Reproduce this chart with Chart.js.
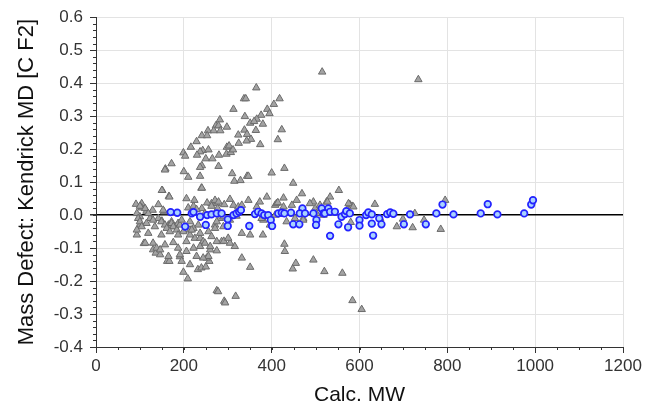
<!DOCTYPE html>
<html>
<head>
<meta charset="utf-8">
<script src="https://cdn.jsdelivr.net/npm/chart.js@4.4.1/dist/chart.umd.min.js"></script>
<style>
  html, body { margin: 0; padding: 0; background: #fff; }
  #wrap { width: 646px; height: 411px; }
</style>
</head>
<body>
<div id="wrap"><canvas id="md-chart" width="646" height="411"></canvas></div>
<script>
// Kendrick mass defect (CF2) vs calculated MW
// gray triangles: all features, blue circles: matched series
const triMW = [
  515, 734, 365, 337, 341, 418, 405, 313, 390, 395, 376, 339, 282, 366, 351, 380, 360, 273, 279, 298,
  255, 268, 283, 423, 338, 364, 241, 253, 324, 344, 353, 343, 414, 229, 325, 374, 216, 298, 303, 199,
  203, 243, 237, 256, 230, 250, 265, 280, 297, 307, 312, 279, 241, 172, 158, 200, 210, 237, 310, 315,
  329, 344, 347, 400, 429, 449, 240, 151, 166, 469, 553, 533,
  795, 726, 635, 578, 583, 685, 721, 747, 785, 699, 580, 647, 525, 495, 499,
  93, 109, 130, 136, 146, 162, 167, 191, 199, 209, 214, 232, 240, 250, 258, 252, 260, 275, 275, 278,
  292, 294, 318, 351, 332, 316, 286, 291, 305, 380, 429, 430, 448, 455, 495, 520, 561, 584, 605,
  91, 104, 104, 115, 129, 142, 155, 150, 167, 224, 210, 241, 241, 248, 263, 275, 277, 292, 305, 313,
  324, 332, 347, 366, 373, 389, 408, 411, 427, 427, 446, 457, 487, 502, 510, 527, 575, 586,
  100, 100, 123, 142, 150, 165, 172, 180, 187, 199, 214, 222, 225, 237, 244, 256, 260, 271, 282, 290,
  305, 332, 381, 396, 434, 472, 518,
  157, 237, 100, 112, 153, 206, 222, 253, 263, 229, 271, 93, 96, 100, 119, 130, 115, 104, 134, 149,
  157, 161, 172, 176, 184, 168, 187, 191, 195, 214, 214, 218, 233, 237, 263, 271, 112, 130, 138, 146,
  157, 176, 187, 191, 206, 206, 222, 237, 229, 248, 256, 93, 119, 149, 165, 195, 244,
  279, 414, 275, 290, 320, 377, 408, 453, 472, 275, 301, 351
];
const triMD = [
  0.434, 0.411, 0.386, 0.353, 0.353, 0.353, 0.336, 0.321, 0.321, 0.308, 0.303, 0.299, 0.289, 0.291, 0.279, 0.276, 0.284, 0.271, 0.271, 0.267,
  0.256, 0.256, 0.256, 0.259, 0.258, 0.257, 0.241, 0.241, 0.243, 0.245, 0.230, 0.225, 0.229, 0.223, 0.218, 0.214, 0.206, 0.206, 0.210, 0.189,
  0.179, 0.196, 0.192, 0.198, 0.182, 0.171, 0.171, 0.182, 0.185, 0.190, 0.198, 0.148, 0.150, 0.156, 0.140, 0.132, 0.115, 0.118, 0.126, 0.103,
  0.105, 0.118, 0.118, 0.128, 0.142, 0.097, 0.082, 0.075, 0.057, 0.065, 0.075, 0.055,
  0.045, 0.005, 0.033, 0.032, 0.027, -0.035, -0.038, -0.015, -0.043, -0.012, -0.022, -0.010, 0.040, 0.040, 0.020,
  -0.060, -0.086, -0.105, -0.115, -0.120, -0.140, -0.140, -0.126, -0.173, -0.193, -0.150, -0.165, -0.160, -0.157, -0.140, -0.130, -0.105, -0.108, -0.229, -0.232,
  -0.261, -0.266, -0.246, -0.158, -0.130, -0.095, -0.080, -0.079, -0.085, -0.060, -0.088, -0.110, -0.163, -0.146, -0.136, -0.171, -0.176, -0.259, -0.286,
  0.033, 0.035, 0.022, 0.012, 0.015, 0.032, 0.010, 0.075, 0.055, 0.045, 0.022, 0.082, 0.020, 0.005, 0.035, 0.035, 0.020, 0.032, 0.048, 0.030,
  0.025, 0.030, 0.045, 0.025, 0.040, 0.055, 0.030, 0.035, 0.052, 0.025, 0.030, 0.045, 0.035, 0.005, 0.030, 0.040, 0.035, 0.025,
  -0.005, -0.030, -0.010, -0.010, -0.018, -0.030, -0.020, -0.035, -0.025, -0.050, -0.045, -0.040, -0.070, -0.070, -0.080, -0.050, -0.095, -0.030, -0.010, -0.035,
  -0.015, -0.055, -0.015, -0.030, -0.020, -0.010, 0.000,
  0.137, 0.145, 0.027, 0.020, 0.015, 0.050, 0.027, 0.037, 0.027, 0.017, 0.045, 0.005, -0.010, -0.020, 0.005, -0.015, -0.025, -0.035, -0.035, -0.020,
  -0.030, -0.040, -0.025, -0.035, -0.045, -0.050, -0.060, -0.030, -0.015, -0.020, -0.060, -0.045, -0.030, -0.055, -0.065, -0.040, -0.085, -0.085, -0.100, -0.105,
  -0.090, -0.083, -0.100, -0.120, -0.080, -0.110, -0.100, -0.095, -0.125, -0.085, -0.125, -0.045, -0.055, -0.060, -0.125, -0.140, -0.130,
  0.040, 0.038, -0.020, -0.005, -0.003, -0.010, 0.000, -0.010, -0.015, -0.080, -0.070, -0.060
];

const circMW = [
  170, 185, 203, 218, 222, 237, 250, 253, 263, 275,
  286, 300, 300, 313, 320, 326, 330, 349, 362, 369, 377, 383, 392, 398, 401, 415, 423, 429, 444, 449,
  463, 470, 464, 476, 495,
  502, 501, 514, 518, 529, 521, 533, 533,
  544, 552, 559, 567, 570, 574, 578, 600, 600, 615, 620, 628, 628, 631, 645, 650, 663, 670, 677, 701,
  715, 751, 775, 789, 814, 876, 892, 914, 975, 991, 995
];
const circMD = [
  0.009, 0.007, -0.035, 0.005, 0.009, -0.005, -0.030, 0.000, 0.002, 0.005,
  0.005, -0.013, -0.033, 0.000, 0.005, 0.010, 0.015, -0.033, 0.003, 0.010, 0.005, 0.000, 0.000, -0.015, -0.033, 0.005, 0.007, 0.005, 0.007, -0.028,
  -0.028, 0.020, 0.005, 0.005, 0.005,
  -0.015, -0.030, 0.020, 0.005, 0.020, 0.005, 0.010, -0.063,
  0.010, -0.028, -0.005, 0.003, 0.012, -0.037, 0.005, -0.015, -0.032, 0.000, 0.008, 0.002, -0.026, -0.062, -0.010, -0.028, 0.003, 0.008, 0.004, -0.028,
  0.002, -0.028, 0.005, 0.032, 0.002, 0.005, 0.033, 0.002, 0.005, 0.032, 0.045
];

const xMin = 0, xMax = 1200, xStep = 200, xMinorStep = 50;
const yMin = -0.4, yMax = 0.6, yStep = 0.1, yMinorStep = 0.02;

const toPoints = (xs, ys) => xs.map((v, i) => ({ x: v, y: ys[i] }));

// small outward minor tick marks on the left and bottom axes
const minorTicks = {
    id: 'minorTicks',
    afterDraw(chart) {
        const { ctx, scales: { x, y } } = chart;
        ctx.save();
        ctx.strokeStyle = '#333';
        ctx.lineWidth = 1;
        ctx.beginPath();
        for (let v = yMin; v <= yMax + 1e-9; v += yMinorStep) {
            const py = Math.round(y.getPixelForValue(v)) + 0.5;
            ctx.moveTo(x.left - 3, py);
            ctx.lineTo(x.left, py);
        }
        for (let v = xMin; v <= xMax; v += xMinorStep) {
            const px = Math.round(x.getPixelForValue(v)) + 0.5;
            ctx.moveTo(px, y.bottom);
            ctx.lineTo(px, y.bottom + 3);
        }
        ctx.stroke();
        ctx.restore();
    }
};

Chart.defaults.font.family = "'Liberation Sans', Arial, sans-serif";

const isZero = v => Math.abs(v) < 1e-9;

new Chart(document.getElementById('md-chart').getContext('2d'), {
    type: 'scatter',
    data: {
        datasets: [
            {
                label: 'matched',
                data: toPoints(circMW, circMD),
                order: 0,
                pointStyle: 'circle',
                pointRadius: 3.3,
                borderWidth: 1.7,
                borderColor: '#2323ff',
                backgroundColor: '#a9d2ff'
            },
            {
                label: 'all',
                data: toPoints(triMW, triMD),
                order: 1,
                pointStyle: 'triangle',
                pointRadius: 4.3,
                borderWidth: 1,
                borderColor: '#6b6b6b',
                backgroundColor: '#a3a3a3'
            }
        ]
    },
    options: {
        responsive: false,
        animation: false,
        events: [],
        layout: { padding: { top: 15, right: 23, left: 0, bottom: 0 } },
        plugins: { legend: { display: false }, tooltip: { enabled: false } },
        scales: {
            x: {
                type: 'linear',
                min: xMin,
                max: xMax,
                ticks: {
                    stepSize: xStep, color: '#333', font: { size: 17 }, padding: 3, maxRotation: 0,
                    callback: v => String(v)
                },
                grid: { color: '#e3e3e3', tickColor: '#333', tickLength: 6 },
                border: { color: '#333', width: 1 },
                title: { display: true, text: 'Calc. MW', color: '#111', font: { size: 21 }, padding: { top: 0, bottom: 3 } },
                afterFit(scale) { scale.height = 64; }
            },
            y: {
                type: 'linear',
                min: yMin,
                max: yMax,
                ticks: {
                    stepSize: yStep, color: '#333', font: { size: 17 }, padding: 7,
                    callback: v => v.toFixed(1)
                },
                grid: {
                    color: ctx => isZero(ctx.tick.value) ? '#000' : '#e3e3e3',
                    lineWidth: ctx => isZero(ctx.tick.value) ? 1.5 : 1,
                    tickColor: '#333',
                    tickLength: 6
                },
                border: { color: '#333', width: 1 },
                title: { display: true, text: 'Mass Defect: Kendrick MD [C F2]', color: '#111', font: { size: 22 }, padding: { top: 14, bottom: 0 } },
                afterFit(scale) { scale.width = 96; }
            }
        }
    },
    plugins: [minorTicks]
});
</script>
</body>
</html>
